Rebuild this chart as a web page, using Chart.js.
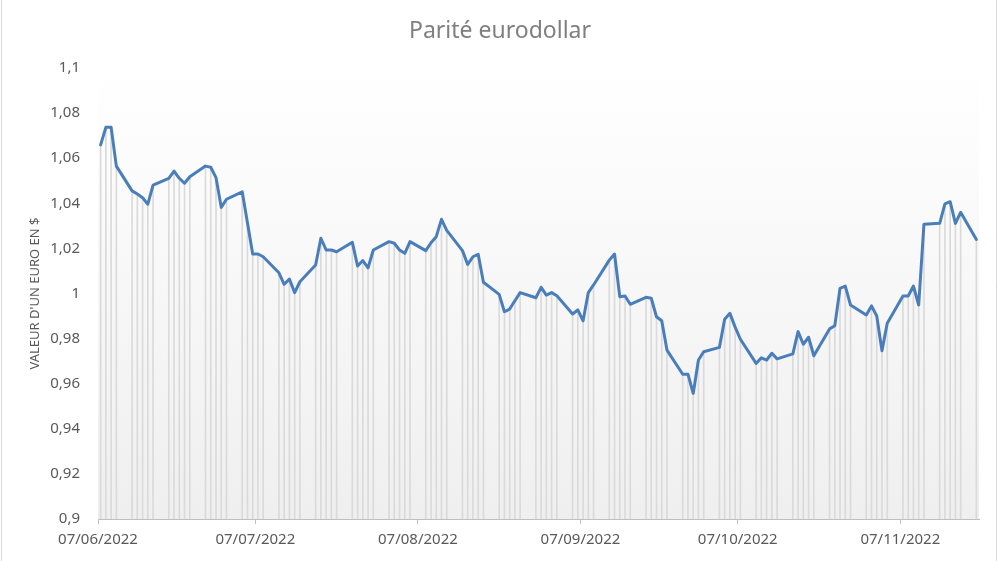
<!DOCTYPE html>
<html>
<head>
<meta charset="utf-8">
<script src="https://cdn.jsdelivr.net/npm/chart.js@4.4.0/dist/chart.umd.min.js"></script>
<style>
  html, body { margin: 0; padding: 0; background: #fff; }
</style>
</head>
<body>
<canvas id="chart" width="1000" height="561"></canvas>
<script>
// Dates (jours ouvrés) et parité EUR/USD
const dates = [
  '07/06/2022','08/06/2022','09/06/2022','10/06/2022','13/06/2022','14/06/2022','15/06/2022','16/06/2022','17/06/2022',
  '20/06/2022','21/06/2022','22/06/2022','23/06/2022','24/06/2022','27/06/2022','28/06/2022','29/06/2022','30/06/2022',
  '01/07/2022','04/07/2022','05/07/2022','06/07/2022','07/07/2022','08/07/2022','11/07/2022','12/07/2022','13/07/2022',
  '14/07/2022','15/07/2022','18/07/2022','19/07/2022','20/07/2022','21/07/2022','22/07/2022','25/07/2022','26/07/2022',
  '27/07/2022','28/07/2022','29/07/2022',
  '01/08/2022','02/08/2022','03/08/2022','04/08/2022','05/08/2022','08/08/2022','09/08/2022','10/08/2022','11/08/2022',
  '12/08/2022','15/08/2022','16/08/2022','17/08/2022','18/08/2022','19/08/2022','22/08/2022','23/08/2022','24/08/2022',
  '25/08/2022','26/08/2022','29/08/2022','30/08/2022','31/08/2022',
  '01/09/2022','02/09/2022','05/09/2022','06/09/2022','07/09/2022','08/09/2022','09/09/2022','12/09/2022','13/09/2022',
  '14/09/2022','15/09/2022','16/09/2022','19/09/2022','20/09/2022','21/09/2022','22/09/2022','23/09/2022','26/09/2022',
  '27/09/2022','28/09/2022','29/09/2022','30/09/2022',
  '03/10/2022','04/10/2022','05/10/2022','06/10/2022','07/10/2022','10/10/2022','11/10/2022','12/10/2022','13/10/2022',
  '14/10/2022','17/10/2022','18/10/2022','19/10/2022','20/10/2022','21/10/2022','24/10/2022','25/10/2022','26/10/2022',
  '27/10/2022','28/10/2022','31/10/2022',
  '01/11/2022','02/11/2022','03/11/2022','04/11/2022','07/11/2022','08/11/2022','09/11/2022','10/11/2022','11/11/2022',
  '14/11/2022','15/11/2022','16/11/2022','17/11/2022','18/11/2022','21/11/2022'
];

const rates = [
  1.0659, 1.0737, 1.0737, 1.0565, 1.0455, 1.0441, 1.0425, 1.0396, 1.0481,
  1.0511, 1.0543, 1.0511, 1.0489, 1.0518, 1.0565, 1.0560, 1.0514, 1.0382,
  1.0418, 1.0451, 1.0314, 1.0175, 1.0175, 1.0163, 1.0092, 1.0041, 1.0064,
  1.0004, 1.0052, 1.0126, 1.0245, 1.0193, 1.0193, 1.0185, 1.0227, 1.0122,
  1.0146, 1.0114, 1.0193,
  1.0230, 1.0223, 1.0193, 1.0178, 1.0230, 1.0190, 1.0225, 1.0252, 1.0329,
  1.0280, 1.0190, 1.0129, 1.0163, 1.0174, 1.0050, 0.9996, 0.9919, 0.9931,
  0.9968, 1.0004, 0.9981, 1.0027, 0.9993,
  1.0004, 0.9990, 0.9909, 0.9927, 0.9879, 1.0004, 1.0038, 1.0148, 1.0175,
  0.9986, 0.9989, 0.9952, 0.9983, 0.9979, 0.9897, 0.9879, 0.9749, 0.9642,
  0.9642, 0.9557, 0.9705, 0.9742,
  0.9761, 0.9886, 0.9912, 0.9851, 0.9797, 0.9690, 0.9715, 0.9705, 0.9735,
  0.9710, 0.9732, 0.9831, 0.9775, 0.9806, 0.9724, 0.9843, 0.9857, 1.0023,
  1.0033, 0.9949, 0.9905,
  0.9945, 0.9900, 0.9746, 0.9868, 0.9989, 0.9989, 1.0033, 0.9949, 1.0307,
  1.0311, 1.0397, 1.0407, 1.0311, 1.0360, 1.0240
];

// Graduations de l'axe des dates
const tickLabels = ['07/06/2022', '07/07/2022', '07/08/2022', '07/09/2022', '07/10/2022', '07/11/2022'];
const axisEnd = '22/11/2022';

const yMin = 0.9, yMax = 1.1, yStep = 0.02;

// jours écoulés depuis la première date
function dayOf(s) {
  const p = s.split('/');
  const t = Date.UTC(+p[2], +p[1] - 1, +p[0]);
  const p0 = dates[0].split('/');
  const t0 = Date.UTC(+p0[2], +p0[1] - 1, +p0[0]);
  return Math.round((t - t0) / 86400000);
}

// chaque point au milieu de son jour (comme Excel)
const points = dates.map((d, i) => ({ x: dayOf(d) + 0.5, y: rates[i] }));

const bgPlugin = {
  id: 'bg',
  beforeDraw(chart) {
    const { ctx, chartArea: a } = chart;
    ctx.save();
    ctx.fillStyle = '#fff';
    ctx.fillRect(0, 0, chart.width, chart.height);
    const g = ctx.createLinearGradient(0, a.top, 0, a.bottom);
    g.addColorStop(0, '#ffffff');
    g.addColorStop(1, '#efefef');
    ctx.fillStyle = g;
    ctx.fillRect(a.left, a.top, a.right - a.left, a.bottom - a.top);
    // cadre du graphique
    ctx.strokeStyle = '#d9d9d9';
    ctx.lineWidth = 1;
    ctx.beginPath();
    ctx.moveTo(1.5, 0); ctx.lineTo(1.5, chart.height);
    ctx.moveTo(996.5, 0); ctx.lineTo(996.5, chart.height);
    ctx.stroke();
    ctx.restore();
  }
};

new Chart(document.getElementById('chart'), {
  type: 'line',
  data: {
    datasets: [
      {
        label: 'Parité',
        data: points,
        borderColor: '#4a7ebb',
        borderWidth: 3,
        pointRadius: 0,
        tension: 0,
        borderJoinStyle: 'round',
        borderCapStyle: 'round',
        order: 1
      },
      {
        // lignes de projection
        type: 'bar',
        label: 'drop',
        data: points,
        base: yMin,
        backgroundColor: '#dadada',
        barThickness: 1,
        grouped: false,
        order: 2
      }
    ]
  },
  options: {
    responsive: false,
    animation: false,
    layout: { padding: 0 },
    plugins: {
      legend: { display: false },
      tooltip: { enabled: false },
      title: {
        display: true,
        text: 'Parité eurodollar',
        color: '#7f7f7f',
        font: { family: 'Noto Sans', size: 23, weight: 'normal' },
        padding: { top: 18, bottom: 22.4 }
      }
    },
    scales: {
      x: {
        type: 'linear',
        offset: false,
        min: 0,
        max: dayOf(axisEnd),
        afterBuildTicks: s => { s.ticks = tickLabels.map(l => ({ value: dayOf(l) })); },
        afterFit: s => { s.height = 42; },
        grid: { offset: false, drawOnChartArea: false, drawTicks: true, tickLength: 5, color: '#bfbfbf' },
        border: { display: true, color: '#bfbfbf', width: 1 },
        ticks: {
          autoSkip: false,
          maxRotation: 0,
          padding: 7,
          color: '#595959',
          font: { family: 'Noto Sans', size: 15 },
          callback: (v, i) => tickLabels[i]
        }
      },
      y: {
        min: yMin,
        max: yMax,
        afterFit: s => { s.width = 98; },
        grid: { display: false, drawTicks: false },
        border: { display: false },
        ticks: {
          stepSize: yStep,
          padding: 18,
          color: '#595959',
          font: { family: 'Noto Sans', size: 15 },
          callback: v => String(Math.round(v * 100) / 100).replace('.', ',')
        },
        title: {
          display: true,
          text: "VALEUR D'UN EURO EN $",
          color: '#595959',
          font: { family: 'Noto Sans', size: 13 },
          padding: { top: 27, bottom: 0 }
        }
      },
      // marge droite vide, pour que le titre reste centré sur la page
      yRight: {
        position: 'right',
        min: yMin,
        max: yMax,
        afterFit: s => { s.width = 21; },
        grid: { display: false, drawTicks: false },
        border: { display: false },
        ticks: { display: false }
      }
    }
  },
  plugins: [bgPlugin]
});
</script>
</body>
</html>
